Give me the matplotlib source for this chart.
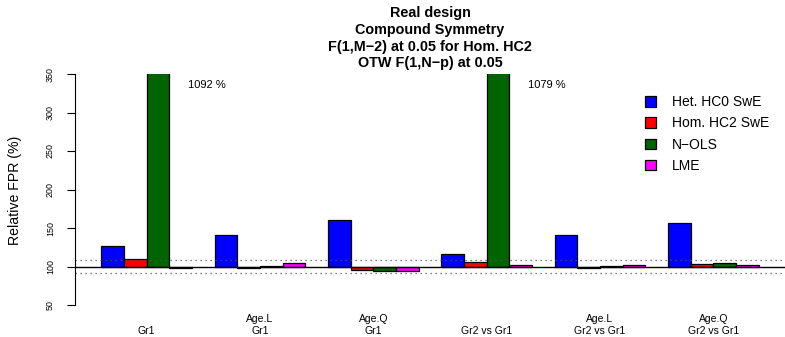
import numpy as np
import matplotlib
matplotlib.use('Agg')
import matplotlib.pyplot as plt
from matplotlib.patches import Patch

plt.rcParams['font.family'] = ['Liberation Sans', 'DejaVu Sans']

# data
top_labels = ['', 'Age.L', 'Age.Q', '', 'Age.L', 'Age.Q']
bottom_labels = ['Gr1', 'Gr1', 'Gr1', 'Gr2 vs Gr1', 'Gr2 vs Gr1', 'Gr2 vs Gr1']
het_hc0 = [126.9, 141.2, 160.6, 116.0, 141.2, 156.8]
hom_hc2 = [110.0, 97.8, 95.7, 105.2, 97.8, 103.0]
n_ols = [1092, 100.6, 93.9, 1079, 100.3, 103.9]
lme = [98.3, 103.9, 93.9, 102.2, 102.2, 101.3]
series_names = ['Het. HC0 SwE', 'Hom. HC2 SwE', 'N\u2212OLS', 'LME']
series_colors = ['#0000FF', '#FF0000', '#006400', '#FF00FF']
bounds = [91.3, 108.7]
title_lines = ['Real design', 'Compound Symmetry',
               'F(1,M\u22122) at 0.05 for Hom. HC2', 'OTW F(1,N\u2212p) at 0.05']

W, H = 785, 337
fig = plt.figure(figsize=(W / 100, H / 100), dpi=100)
ax = fig.add_axes([75 / W, (H - 305) / H, (W - 75) / W, (305 - 74) / H])

series = [het_hc0, hom_hc2, n_ols, lme]
ngroups = len(bottom_labels)
for i, (vals, col) in enumerate(zip(series, series_colors)):
    x = 1 + 5 * np.arange(ngroups) + i
    vals = np.array(vals, dtype=float)
    ax.bar(x, vals - 100, bottom=100, width=1, align='edge',
           color=col, edgecolor='black', linewidth=0.9)

ax.set_xlim(-0.16, 31.16)
ax.set_ylim(50, 350)
ax.axhline(100, color='black', lw=1)
for b in bounds:
    ax.axhline(b, color='#555555', lw=0.9, ls=(0, (1, 3)))

# big values that run off the top
for g, v in enumerate(n_ols):
    if v > 350:
        ax.text(1 + 5 * g + 2.5 + 2.15, 335.7, '%d %%' % v, ha='center',
                va='center', fontsize=8)

for s in ['top', 'right', 'bottom']:
    ax.spines[s].set_visible(False)
ax.spines['left'].set_bounds(50, 350)
ax.set_xticks([])
ax.set_yticks(np.arange(50, 351, 50))
ax.tick_params(axis='y', length=6, labelsize=6.4, pad=8.5)
for lab in ax.get_yticklabels():
    lab.set_rotation(90)
    lab.set_va('center')

trans = ax.get_xaxis_transform()
for g in range(ngroups):
    cx = 3 + 5 * g
    if top_labels[g]:
        ax.text(cx, -0.0606, top_labels[g], transform=trans, ha='center',
                va='center', fontsize=7.5)
    ax.text(cx, -0.1126, bottom_labels[g], transform=trans, ha='center',
            va='center', fontsize=7.5)

fig.text(15 / W, 1 - 190 / H, 'Relative FPR (%)', rotation=90, ha='center',
         va='center', fontsize=10.2)

tx = (75 + W) / 2 / W
for k, line in enumerate(title_lines):
    fig.text(tx, 1 - (13.3 + 16.7 * k) / H, line, ha='center', va='center',
             fontsize=10.4, fontweight='bold')

handles = [Patch(facecolor=c, edgecolor='black', linewidth=0.9) for c in series_colors]
ax.legend(handles, series_names, loc='upper left',
          bbox_to_anchor=(645 / W, 1 - 95.2 / H), bbox_transform=fig.transFigure,
          frameon=False, fontsize=10, borderpad=0, borderaxespad=0,
          handlelength=0.79, handleheight=0.79, handletextpad=1.15,
          labelspacing=0.52)

fig.savefig('out.png', dpi=100)
